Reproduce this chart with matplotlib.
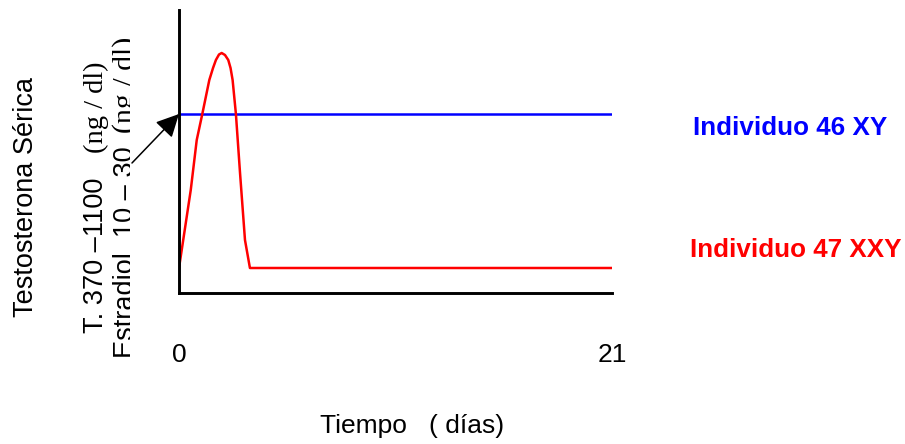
import matplotlib
matplotlib.use("Agg")
import matplotlib.pyplot as plt
from matplotlib.transforms import Bbox, TransformedBbox

# *** data (x in days, y in arbitrary units) ***
days_xy = [0, 21]
level_xy = [179, 179]

days_xxy = [0, 0.57, 0.86, 1.13, 1.47, 1.65, 1.79, 1.94, 2.07, 2.23, 2.39, 2.50, 2.60, 2.76, 2.96, 3.20, 3.44, 21]
level_xxy = [25, 103, 153, 179, 213, 225, 233, 238.5, 240, 238, 233, 225, 213, 179, 120, 53, 25, 25]

x_ticks = [0, 21]
x_tick_labels = ["0", "21"]

W, H = 905, 444
SANS = "Liberation Sans"
SERIF = "Liberation Serif"


def fx(px):
    return px / W


def fy(py):
    return 1 - py / H


fig = plt.figure(figsize=(W / 100, H / 100), dpi=100)
ax = fig.add_axes([fx(179), fy(293), fx(612) - fx(179), fy(10) - fy(293)])

ax.plot(days_xy, level_xy, color="#0000FF", lw=1.8, solid_capstyle="butt")
ax.plot(days_xxy, level_xxy, color="#FF0000", lw=1.8, solid_joinstyle="round")

ax.set_xlim(0, 21)
ax.set_ylim(0, 283)
ax.spines["top"].set_visible(False)
ax.spines["right"].set_visible(False)
for s in ("left", "bottom"):
    ax.spines[s].set_linewidth(2.1)
ax.set_yticks([])
ax.set_xticks(x_ticks, x_tick_labels)
ax.tick_params(axis="x", length=0, pad=36, labelsize=19)
for lab in ax.get_xticklabels():
    lab.set_fontfamily(SANS)

# arrow pointing at the top reference level
ax.annotate("", xy=(0, 179), xytext=(-2.28, 130), xycoords="data",
            annotation_clip=False,
            arrowprops=dict(arrowstyle="-|>,head_length=1.4,head_width=0.7",
                            mutation_scale=10, color="black", lw=1.1,
                            shrinkA=0, shrinkB=0))

# y axis texts (rotated, placed piece by piece)
fig.text(fx(33), fy(317), "Testosterona Sérica", rotation=90, rotation_mode="anchor",
         ha="left", va="baseline", fontsize=19.5, family=SANS)
fig.text(fx(103), fy(333), "T. 370 \u20131100", rotation=90, rotation_mode="anchor",
         ha="left", va="baseline", fontsize=19.5, family=SANS)
fig.text(fx(103), fy(153), "(ng / dl)", rotation=90, rotation_mode="anchor",
         ha="left", va="baseline", fontsize=20.5, family=SERIF)

clip = TransformedBbox(Bbox.from_extents(0, 0, fx(130), fy(35)), fig.transFigure)
t1 = fig.text(fx(133), fy(358), "Estradiol  10 \u2013 30", rotation=90, rotation_mode="anchor",
              ha="left", va="baseline", fontsize=19.5, family=SANS)
t2 = fig.text(fx(133), fy(133), "(ng / dl)", rotation=90, rotation_mode="anchor",
              ha="left", va="baseline", fontsize=21.5, family=SERIF)
for t in (t1, t2):
    t.set_clip_box(clip)
    t.set_clip_on(True)

fig.text(fx(320), fy(433), "Tiempo   ( días)", ha="left", va="baseline",
         fontsize=19, family=SANS)

fig.text(fx(693), fy(135), "Individuo 46 XY", ha="left", va="baseline",
         fontsize=18.7, fontweight="bold", color="#0000FF", family=SANS)
fig.text(fx(690), fy(257), "Individuo 47 XXY", ha="left", va="baseline",
         fontsize=18.7, fontweight="bold", color="#FF0000", family=SANS)

fig.savefig("out.png", dpi=100)
